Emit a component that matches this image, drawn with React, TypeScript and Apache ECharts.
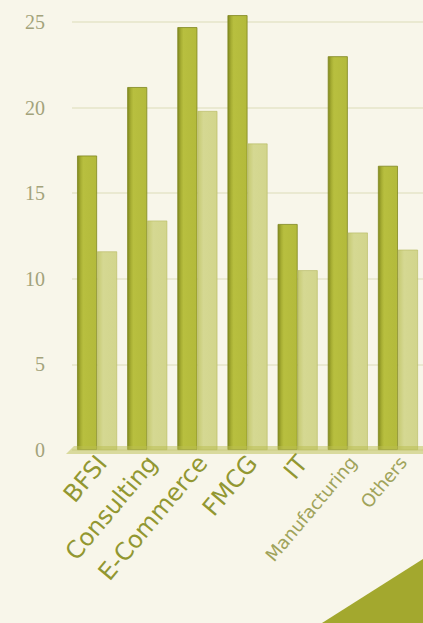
import React, { useEffect, useRef } from "react";
import * as echarts from "echarts";

const categories = ["BFSI", "Consulting", "E-Commerce", "FMCG", "IT", "Manufacturing", "Others"];
const seriesA = [17.2, 21.2, 24.7, 25.4, 13.2, 23.0, 16.6];
const seriesB = [11.6, 13.4, 19.8, 17.9, 10.5, 12.7, 11.7];
const yMin = 0;
const yMax = 25;
const yStep = 5;

const labelSizes: Record<string, number> = {
  Manufacturing: 18,
  Others: 18,
};

export default function App() {
  const ref = useRef<HTMLDivElement>(null);
  useEffect(() => {
    if (!ref.current) return;
    const chart = echarts.init(ref.current, undefined, { renderer: "svg" });
    const darkFill = new echarts.graphic.LinearGradient(0, 0, 1, 0, [
      { offset: 0, color: "#838a20" },
      { offset: 0.18, color: "#a9b034" },
      { offset: 0.3, color: "#b8bf3f" },
      { offset: 1, color: "#b3ba3b" },
    ]);
    const lightFill = new echarts.graphic.LinearGradient(0, 0, 1, 0, [
      { offset: 0, color: "#c6ca72" },
      { offset: 0.3, color: "#d5d892" },
      { offset: 1, color: "#d2d58c" },
    ]);
    chart.setOption({
      animation: false,
      backgroundColor: "#f8f6ea",
      grid: { left: 72, right: -3, top: 22, bottom: 173, containLabel: false },
      xAxis: {
        type: "category",
        data: categories.map((c) => ({
          value: c,
          textStyle: {
            fontSize: labelSizes[c] ?? 24,
            color: labelSizes[c] ? "#a0a35a" : "#929731",
          },
        })),
        axisLine: { show: false },
        axisTick: { show: false },
        axisLabel: {
          interval: 0,
          rotate: 50,
          margin: 15,
          padding: [0, -8, 0, 0],
          color: "#929731",
          fontFamily: "'DejaVu Sans', sans-serif",
          fontSize: 24,
        },
      },
      yAxis: {
        type: "value",
        min: yMin,
        max: yMax,
        interval: yStep,
        axisLine: { show: false },
        axisTick: { show: false },
        axisLabel: {
          margin: 27,
          color: "#a3a37b",
          fontFamily: "'Liberation Serif', 'DejaVu Serif', serif",
          fontSize: 20,
        },
        splitLine: { lineStyle: { color: "#e6e5c8", width: 1.5 } },
      },
      series: [
        {
          type: "bar",
          data: seriesA,
          barWidth: 20,
          barGap: "0%",
          clip: false,
          itemStyle: { color: darkFill, borderColor: "#7f8620", borderWidth: 0.8 },
        },
        {
          type: "bar",
          data: seriesB,
          barWidth: 20,
          clip: false,
          itemStyle: { color: lightFill, borderColor: "#b5b960", borderWidth: 0.6 },
        },
      ],
      graphic: [
        {
          type: "polygon",
          z: 10,
          shape: { points: [[66, 454], [423, 454], [423, 446], [74, 446]] },
          style: { fill: "#b9be50", opacity: 0.5 },
        },
        {
          type: "polygon",
          z: 10,
          shape: { points: [[322, 623], [423, 559], [423, 623]] },
          style: { fill: "#a3a82e" },
        },
      ],
    });
    return () => chart.dispose();
  }, []);
  return (
    <div
      ref={ref}
      style={{ position: "fixed", left: 0, top: 0, width: 423, height: 623 }}
    />
  );
}
